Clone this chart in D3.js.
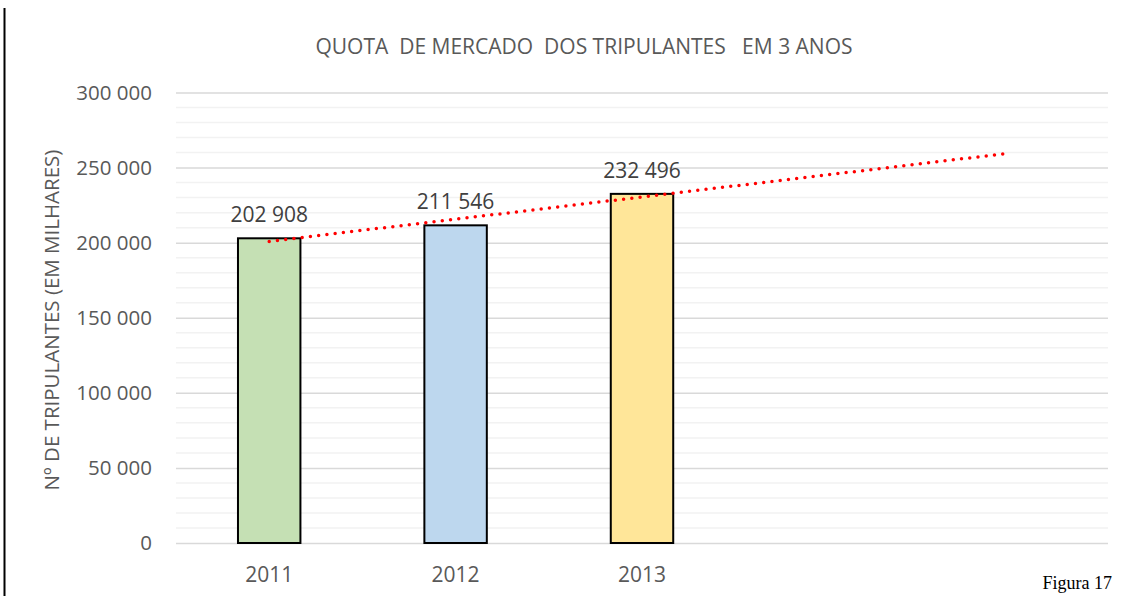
<!DOCTYPE html>
<html lang="pt">
<head>
  <meta charset="UTF-8">
  <title>Quota de mercado dos tripulantes</title>
  <style>
    body { margin: 0; background: #fff; }
    svg { display: block; font-family: "Open Sans", sans-serif; }
  </style>
  <script src="https://d3js.org/d3.v7.min.js"></script>
</head>
<body>
  <div id="chart"></div>
  <script>
  // data
  const xLabels = ['2011', '2012', '2013', '', ''];
  const values = [202908, 211546, 232496];
  const barColors = ['#C5E0B4', '#BDD7EE', '#FFE699'];
  const yTicks = [0, 50000, 100000, 150000, 200000, 250000, 300000];
  const trendForward = 2; // linear trendline, forecast 2 periods ahead

  const W = 1130, H = 596;
  const m = { t: 92.5, r: 22, b: 53, l: 176 };
  const fmt = d => d3.format(',')(d).replace(/,/g, ' ');

  const svg = d3.select('#chart').append('svg')
    .attr('width', W).attr('height', H);

  // page border line on the left
  svg.append('line')
    .attr('x1', 4.5).attr('x2', 4.5).attr('y1', 8).attr('y2', H)
    .attr('stroke', '#000').attr('stroke-width', 2);

  const x = d3.scaleBand()
    .domain(xLabels.map((d, i) => i))
    .range([m.l, W - m.r]);
  const y = d3.scaleLinear()
    .domain([0, 300000])
    .range([H - m.b, m.t]);

  // minor gridlines every 10 000
  svg.append('g').selectAll('line')
    .data(d3.range(0, 300001, 10000).filter(v => v % 50000))
    .join('line')
      .attr('x1', m.l).attr('x2', W - m.r)
      .attr('y1', d => y(d)).attr('y2', d => y(d))
      .attr('stroke', '#F2F2F2').attr('stroke-width', 1.5);

  // major gridlines + labels
  const yAxis = svg.append('g')
    .attr('transform', `translate(${m.l},0)`)
    .call(d3.axisLeft(y).tickValues(yTicks)
      .tickSize(-(W - m.r - m.l)).tickPadding(24)
      .tickFormat(fmt));
  yAxis.select('.domain').remove();
  yAxis.selectAll('.tick line').attr('stroke', '#D9D9D9').attr('stroke-width', 1.5);
  yAxis.selectAll('.tick text')
    .attr('fill', '#595959').style('font-size', '20.5px')
    .style('font-family', '"Open Sans", sans-serif');

  // bars
  const bw = x.bandwidth() * 0.335;
  svg.append('g').selectAll('rect')
    .data(values)
    .join('rect')
      .attr('x', (d, i) => x(i) + (x.bandwidth() - bw) / 2)
      .attr('y', d => y(d))
      .attr('width', bw)
      .attr('height', d => y(0) - y(d))
      .attr('fill', (d, i) => barColors[i])
      .attr('stroke', '#000').attr('stroke-width', 2);

  // value labels
  svg.append('g').selectAll('text')
    .data(values)
    .join('text')
      .attr('x', (d, i) => x(i) + x.bandwidth() / 2)
      .attr('y', d => y(d) - 16)
      .attr('text-anchor', 'middle')
      .attr('fill', '#404040').style('font-size', '21px')
      .text(fmt);

  // linear trendline (least squares on period index 1..n)
  const n = values.length;
  const xs = d3.range(1, n + 1);
  const mx = d3.mean(xs), my = d3.mean(values);
  const slope = d3.sum(xs, (v, i) => (v - mx) * (values[i] - my)) /
                d3.sum(xs, v => (v - mx) ** 2);
  const icpt = my - slope * mx;
  const tEnd = n + trendForward;
  const cx = p => x(p - 1) + x.bandwidth() / 2;
  svg.append('line')
    .attr('x1', cx(1)).attr('y1', y(icpt + slope))
    .attr('x2', cx(tEnd) - 5).attr('y2', y(icpt + slope * (tEnd - 5 / x.bandwidth())))
    .attr('stroke', '#FF0000').attr('stroke-width', 3.5)
    .attr('stroke-linecap', 'round').attr('stroke-dasharray', '0 8.3');

  // x labels
  svg.append('g').selectAll('text')
    .data(xLabels)
    .join('text')
      .attr('x', (d, i) => x(i) + x.bandwidth() / 2)
      .attr('y', 582)
      .attr('text-anchor', 'middle')
      .attr('fill', '#595959').style('font-size', '21px')
      .text(d => d);

  // title
  svg.append('text')
    .attr('x', 584).attr('y', 54)
    .attr('text-anchor', 'middle')
    .attr('fill', '#595959').style('font-size', '21px')
    .style('white-space', 'pre')
    .text('QUOTA  DE MERCADO  DOS TRIPULANTES   EM 3 ANOS');

  // y axis title
  svg.append('text')
    .attr('transform', 'translate(59,320) rotate(-90)')
    .attr('text-anchor', 'middle')
    .attr('fill', '#595959').style('font-size', '20.5px')
    .text('Nº DE TRIPULANTES (EM MILHARES)');

  // figure caption
  svg.append('text')
    .attr('x', 1112).attr('y', 589)
    .attr('text-anchor', 'end')
    .attr('fill', '#000')
    .style('font-family', '"Liberation Serif", "Times New Roman", serif')
    .style('font-size', '18px')
    .text('Figura 17');
  </script>
</body>
</html>
